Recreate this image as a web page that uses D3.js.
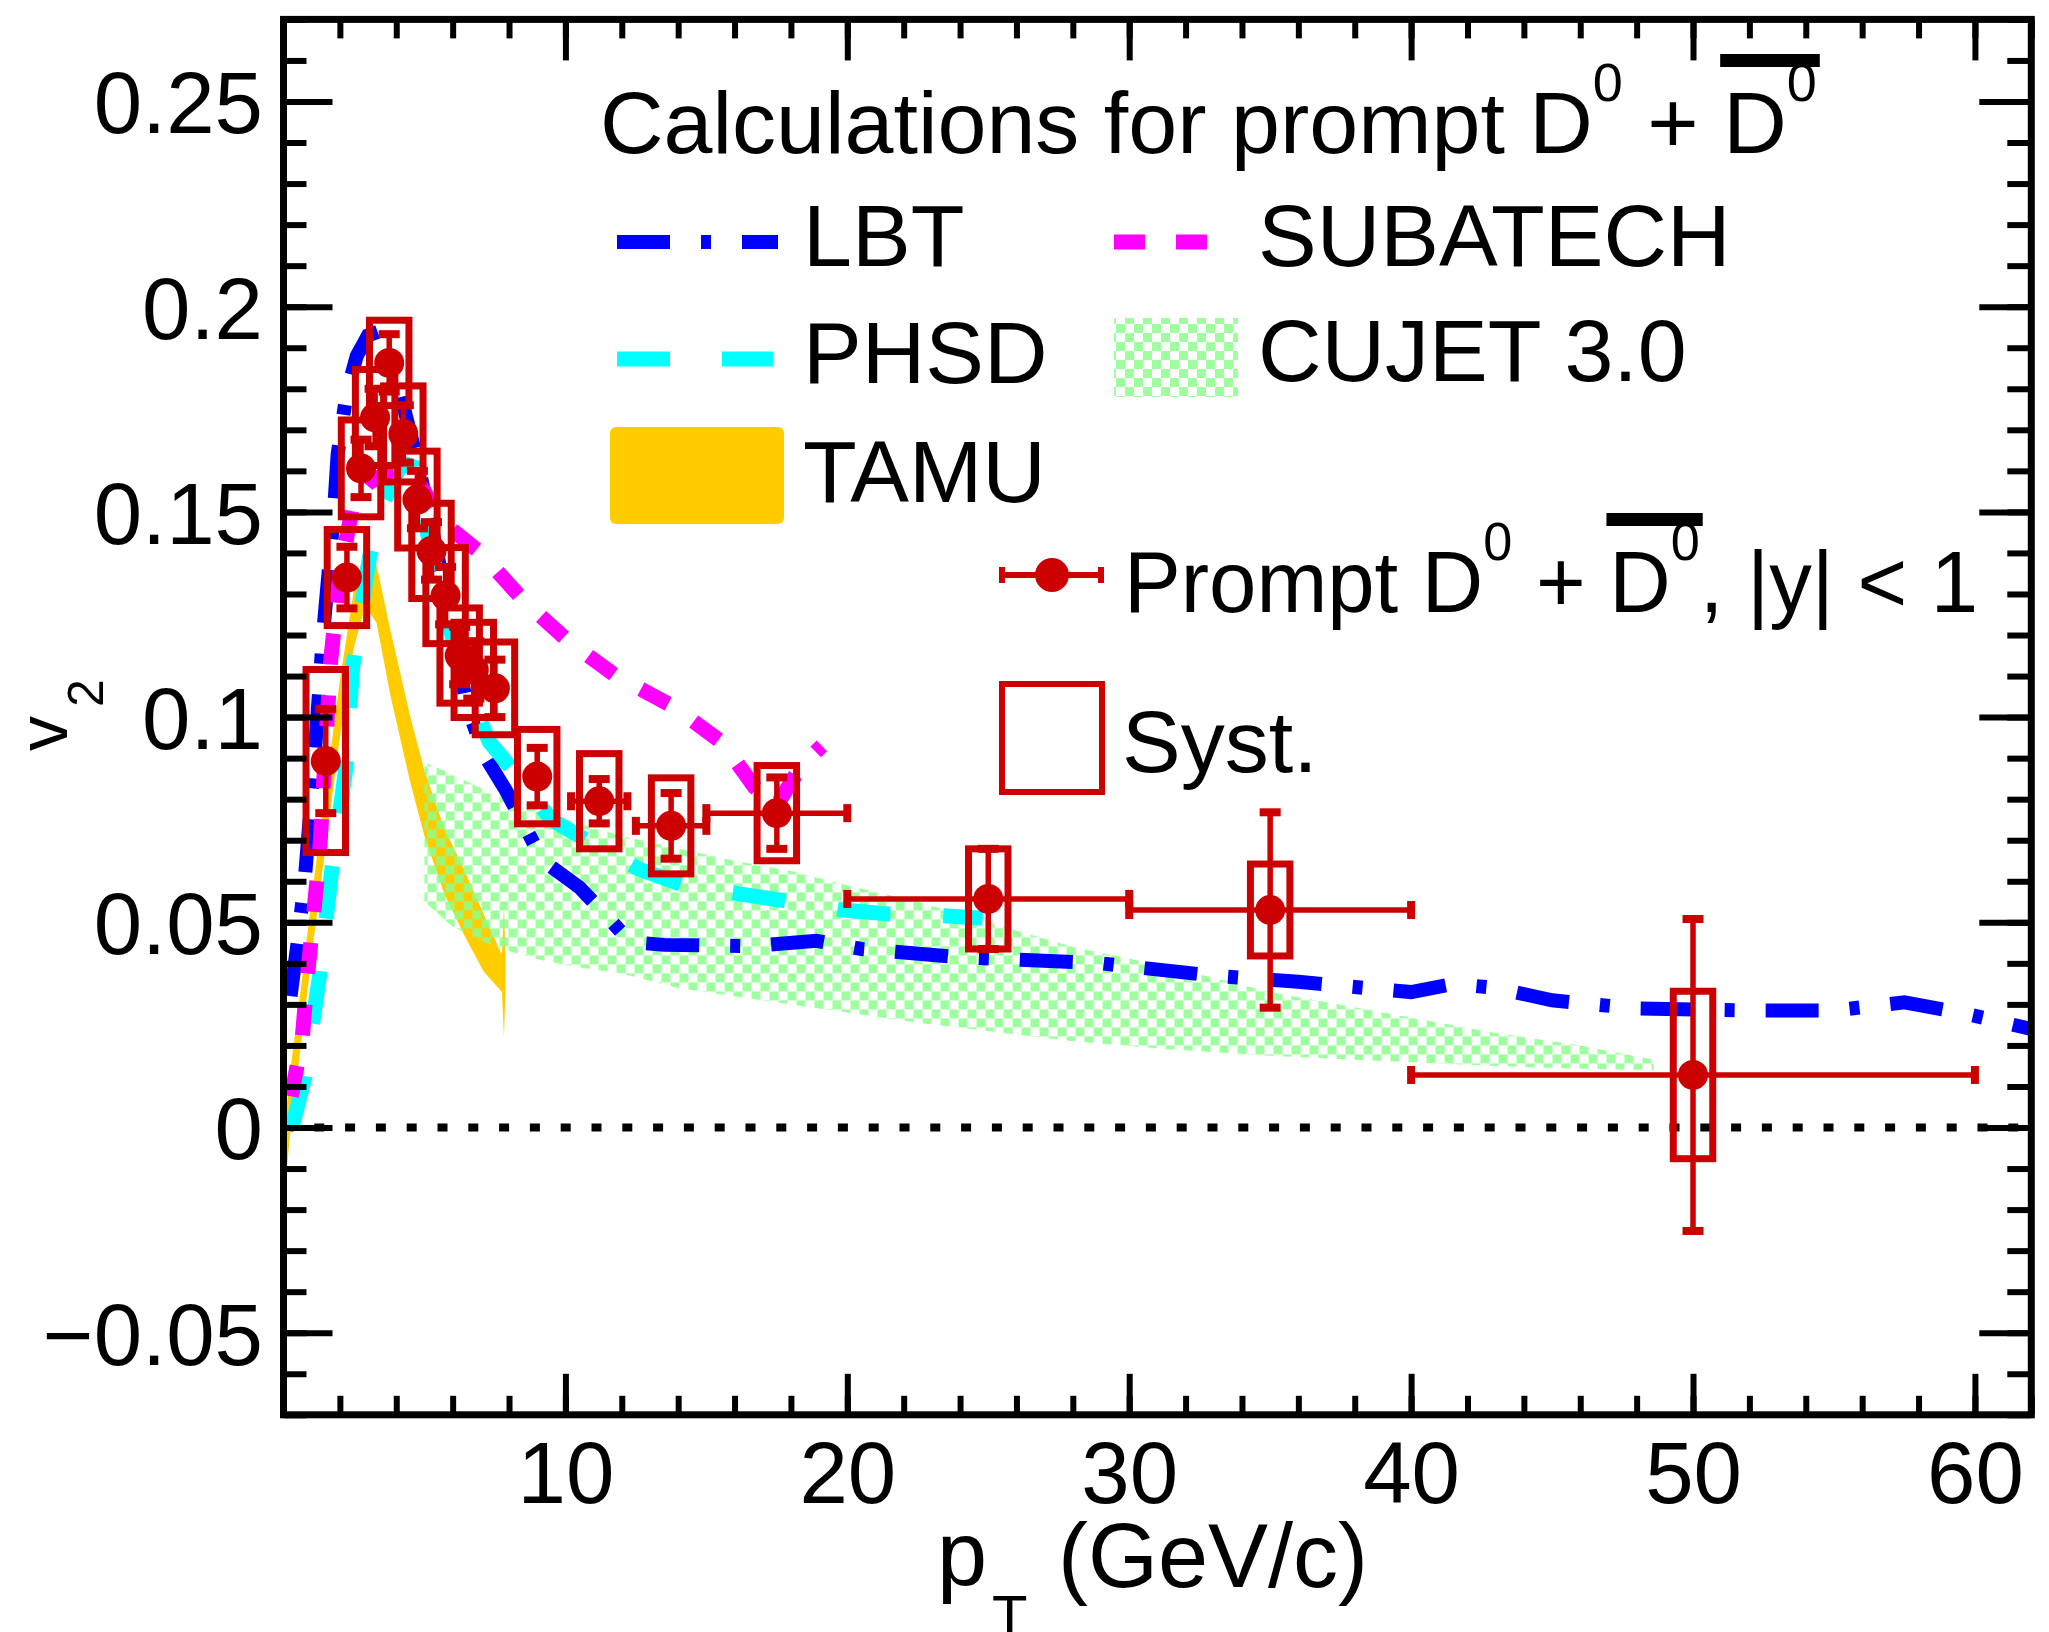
<!DOCTYPE html>
<html>
<head>
<meta charset="utf-8">
<script src="https://cdn.jsdelivr.net/npm/d3@7"></script>
<style>
  body { margin: 0; background: #fff; }
  svg text { font-family: "Liberation Sans", Arial, Helvetica, sans-serif; fill: #000; }
</style>
</head>
<body>
<div id="plot"></div>
<script>
// ---- values ----
const xMajorTicks = [10, 20, 30, 40, 50, 60];
const yMajorTicks = [-0.05, 0, 0.05, 0.1, 0.15, 0.2, 0.25];
const yTickLabels = ["\u22120.05", "0", "0.05", "0.1", "0.15", "0.2", "0.25"];

// prompt D0 + D0bar, |y| < 1
const ptD0   = [1.5, 2.25, 2.75, 3.25, 3.75, 4.25, 4.75, 5.25, 5.75, 6.25, 6.75, 7.5, 9.0, 11.2, 13.75, 17.5, 25.0, 35.0, 50.0];
const v2D0   = [0.0893, 0.134, 0.1606, 0.173, 0.1863, 0.169, 0.153, 0.1405, 0.1296, 0.115, 0.1115, 0.107, 0.0855, 0.0795, 0.0735, 0.0766, 0.0557, 0.053, 0.0128];
const statD0 = [0.0127, 0.0075, 0.007, 0.007, 0.007, 0.007, 0.007, 0.007, 0.007, 0.007, 0.007, 0.007, 0.007, 0.0054, 0.008, 0.0087, 0.0122, 0.0238, 0.038];
const systD0 = [0.0223, 0.0117, 0.0118, 0.0117, 0.0104, 0.0117, 0.0118, 0.0116, 0.0117, 0.0116, 0.0116, 0.0113, 0.0115, 0.0116, 0.0117, 0.0116, 0.0122, 0.0112, 0.0204];
const ptLoD0 = [1.5, 2.25, 2.75, 3.25, 3.75, 4.25, 4.75, 5.25, 5.75, 6.25, 6.75, 7.5, 9.0, 10.2, 12.5, 15, 20, 30, 40];
const ptHiD0 = [1.5, 2.25, 2.75, 3.25, 3.75, 4.25, 4.75, 5.25, 5.75, 6.25, 6.75, 7.5, 9.0, 12.2, 15, 20, 30, 40, 60];

// LBT
const lbtPt = [0.25, 0.5, 0.75, 1.1, 1.4, 1.78, 1.92, 2.24, 2.6, 3.0, 3.4, 3.8, 4.1, 4.8, 5.6, 6.5, 7.1, 7.9, 9.2, 10.5, 11.4, 12.3, 13.5, 16.6, 18.9, 20.5, 24.0, 29.0, 33.0, 36.0, 40.0, 41.5, 43.0, 45.0, 48.0, 52.0, 55.0, 57.5, 59.5, 62.0];
const lbtV2 = [0.032, 0.045, 0.06, 0.09, 0.12, 0.149, 0.164, 0.179, 0.188, 0.193, 0.194, 0.19, 0.18, 0.161, 0.135, 0.103, 0.091, 0.082, 0.065, 0.0585, 0.052, 0.0452, 0.0445, 0.0442, 0.0455, 0.0435, 0.0415, 0.040, 0.037, 0.0355, 0.033, 0.035, 0.034, 0.031, 0.029, 0.0285, 0.0285, 0.0305, 0.028, 0.024];

// PHSD
const phsdPt = [0.3, 0.75, 1.28, 1.7, 2.2, 2.45, 3.05, 3.6, 4.2, 4.6, 5.0, 5.85, 6.5, 7.3, 7.9, 9.5, 11.0, 12.6, 14.2, 16.1, 18.0, 19.85, 21.5, 23.4, 24.8];
const phsdV2 = [0.0, 0.012, 0.037, 0.062, 0.087, 0.112, 0.139, 0.153, 0.162, 0.161, 0.148, 0.123, 0.107, 0.094, 0.089, 0.075, 0.069, 0.063, 0.059, 0.057, 0.055, 0.053, 0.052, 0.0516, 0.051];

// SUBATECH
const subPt = [0.28, 0.67, 0.85, 1.07, 1.28, 1.67, 2.0, 2.5, 3.0, 3.8, 4.4, 5.0, 5.55, 7.0, 8.5, 10.1, 11.8, 13.85, 15.6, 16.7, 17.5, 18.35, 19.1];
const subV2 = [0.0076, 0.022, 0.037, 0.052, 0.067, 0.1136, 0.135, 0.153, 0.157, 0.16, 0.161, 0.155, 0.148, 0.14, 0.1285, 0.1185, 0.11, 0.1025, 0.0936, 0.083, 0.0785, 0.088, 0.093];

// TAMU band
const tamuPt = [0.08, 0.3, 0.6, 1.0, 1.5, 2.0, 2.5, 2.9, 3.3, 3.8, 4.5, 5.0, 5.7, 6.4, 7.1, 7.75, 7.82, 7.88];
const tamuLo = [-0.013, 0.003, 0.019, 0.042, 0.069, 0.095, 0.117, 0.127, 0.123, 0.105, 0.084, 0.071, 0.057, 0.047, 0.038, 0.033, 0.022, 0.034];
const tamuHi = [0.003, 0.017, 0.033, 0.056, 0.083, 0.109, 0.131, 0.141, 0.137, 0.121, 0.100, 0.087, 0.073, 0.063, 0.052, 0.042, 0.054, 0.041];

// CUJET 3.0 band
const cujetPt = [5.0, 6.0, 7.5, 9.0, 10.5, 12.0, 14.0, 16.0, 18.0, 20.0, 22.5, 25.0, 28.0, 31.5, 35.0, 39.0, 43.0, 46.0, 48.6];
const cujetHi = [0.089, 0.086, 0.081, 0.078, 0.074, 0.071, 0.068, 0.065, 0.0625, 0.059, 0.055, 0.050, 0.044, 0.039, 0.033, 0.028, 0.023, 0.020, 0.0165];
const cujetLo = [0.055, 0.049, 0.044, 0.041, 0.039, 0.0375, 0.034, 0.032, 0.030, 0.028, 0.0255, 0.0235, 0.021, 0.019, 0.0175, 0.0162, 0.015, 0.0143, 0.014];

// ---- drawing ----
const W = 2049, H = 1632;
const margins = { top: 19.4, right: 17.7, bottom: 217.2, left: 283.5 };
const width = W - margins.left - margins.right;
const height = H - margins.top - margins.bottom;

const FS = 88;      // main text size
const TFS = 87;     // tick labels
const SUP = 54;     // superscripts
const RED = "#cc0000";
const SYST_HALF = 0.7; // half width of syst boxes, GeV/c

const svg = d3.select("#plot").append("svg").attr("width", W).attr("height", H);
const defs = svg.append("defs");
defs.append("clipPath").attr("id", "frame-clip")
  .append("rect").attr("width", width).attr("height", height);
const checker = defs.append("pattern").attr("id", "checker")
  .attr("patternUnits", "userSpaceOnUse").attr("width", 18).attr("height", 18);
checker.append("rect").attr("width", 9).attr("height", 9).attr("fill", "#8cff8c").attr("fill-opacity", 0.85);
checker.append("rect").attr("x", 9).attr("y", 9).attr("width", 9).attr("height", 9).attr("fill", "#8cff8c").attr("fill-opacity", 0.85);

const plot = svg.append("g").attr("transform", `translate(${margins.left},${margins.top})`);

const x = d3.scaleLinear().domain([0, 62]).range([0, width]);
const y = d3.scaleLinear().domain([-0.07, 0.27]).range([height, 0]);

// models
const models = plot.append("g").attr("clip-path", "url(#frame-clip)");

models.append("line")
  .attr("x1", 0).attr("x2", width).attr("y1", y(0)).attr("y2", y(0))
  .attr("stroke", "#000").attr("stroke-width", 8).attr("stroke-dasharray", "10 20.8");

const band = (pts, lo, hi) => d3.area()
  .x((d, i) => x(pts[i])).y0((d, i) => y(lo[i])).y1((d, i) => y(hi[i]))(pts);
const curve = (pts, vals) => d3.line()
  .x((d, i) => x(pts[i])).y((d, i) => y(vals[i]))(pts);

models.append("path").attr("d", band(tamuPt, tamuLo, tamuHi)).attr("fill", "#ffcc00");
models.append("path").attr("d", band(cujetPt, cujetLo, cujetHi)).attr("fill", "url(#checker)");

models.append("path").attr("d", curve(lbtPt, lbtV2))
  .attr("fill", "none").attr("stroke", "#0000ff").attr("stroke-width", 14)
  .attr("stroke-dasharray", "53 31 10 31");
models.append("path").attr("d", curve(phsdPt, phsdV2))
  .attr("fill", "none").attr("stroke", "#00ffff").attr("stroke-width", 15)
  .attr("stroke-dasharray", "53 53");
models.append("path").attr("d", curve(subPt, subV2))
  .attr("fill", "none").attr("stroke", "#ff00ff").attr("stroke-width", 15)
  .attr("stroke-dasharray", "31 31");

// measured points
const data = ptD0.map((pt, i) => ({
  pt, v: v2D0[i], stat: statD0[i], syst: systD0[i], lo: ptLoD0[i], hi: ptHiD0[i]
}));
const pts = plot.append("g").attr("clip-path", "url(#frame-clip)");

pts.selectAll("rect.syst").data(data).enter().append("rect")
  .attr("class", "syst")
  .attr("x", d => x(d.pt - SYST_HALF))
  .attr("width", d => x(d.pt + SYST_HALF) - x(d.pt - SYST_HALF))
  .attr("y", d => y(d.v + d.syst))
  .attr("height", d => y(d.v - d.syst) - y(d.v + d.syst))
  .attr("fill", "none").attr("stroke", RED).attr("stroke-width", 7);

// stat error bars (vertical)
pts.selectAll("line.ey").data(data).enter().append("line")
  .attr("x1", d => x(d.pt)).attr("x2", d => x(d.pt))
  .attr("y1", d => y(d.v + d.stat)).attr("y2", d => y(d.v - d.stat))
  .attr("stroke", RED).attr("stroke-width", 5.5);
pts.selectAll("rect.capy").data(data.flatMap(d => [[d.pt, d.v + d.stat], [d.pt, d.v - d.stat]]))
  .enter().append("rect")
  .attr("x", d => x(d[0]) - 10.5).attr("y", d => y(d[1]) - 4)
  .attr("width", 21).attr("height", 8).attr("fill", RED);

// bin widths (horizontal)
const wide = data.filter(d => d.hi > d.lo);
pts.selectAll("line.ex").data(wide).enter().append("line")
  .attr("x1", d => x(d.lo)).attr("x2", d => x(d.hi))
  .attr("y1", d => y(d.v)).attr("y2", d => y(d.v))
  .attr("stroke", RED).attr("stroke-width", 5.5);
pts.selectAll("rect.capx").data(wide.flatMap(d => [[d.lo, d.v], [d.hi, d.v]]))
  .enter().append("rect")
  .attr("x", d => x(d[0]) - 4).attr("y", d => y(d[1]) - 9)
  .attr("width", 8).attr("height", 18).attr("fill", RED);

pts.selectAll("circle").data(data).enter().append("circle")
  .attr("cx", d => x(d.pt)).attr("cy", d => y(d.v)).attr("r", 15).attr("fill", RED);

// axes, ticks inward on all four sides
function styleAxis(g) {
  g.select(".domain").remove();
  g.attr("font-size", TFS).attr("font-family", "'Liberation Sans', Arial, sans-serif");
  g.selectAll(".tick line").attr("stroke", "#000").attr("stroke-width", 6);
  g.selectAll(".tick text").attr("fill", "#000");
}
const xMinor = d3.range(0, 62.01, 2);
const yMinor = d3.range(-7, 28).map(i => i / 100);

plot.append("g").attr("transform", `translate(0,${height})`)
  .call(d3.axisBottom(x).tickValues(xMinor).tickSize(-19).tickFormat(""))
  .call(styleAxis);
plot.append("g").attr("transform", `translate(0,${height})`)
  .call(d3.axisBottom(x).tickValues(xMajorTicks).tickSize(-41).tickPadding(26.5).tickFormat(d3.format("d")))
  .call(styleAxis);
plot.append("g")
  .call(d3.axisTop(x).tickValues(xMinor).tickSize(-19).tickFormat(""))
  .call(styleAxis);
plot.append("g")
  .call(d3.axisTop(x).tickValues(xMajorTicks).tickSize(-41).tickFormat(""))
  .call(styleAxis);

plot.append("g")
  .call(d3.axisLeft(y).tickValues(yMinor).tickSize(-23).tickFormat(""))
  .call(styleAxis);
plot.append("g")
  .call(d3.axisLeft(y).tickValues(yMajorTicks).tickSize(-49).tickPadding(20.5)
    .tickFormat((d, i) => yTickLabels[i]))
  .call(styleAxis)
  .selectAll(".tick text").attr("dy", "0.36em");
plot.append("g").attr("transform", `translate(${width},0)`)
  .call(d3.axisRight(y).tickValues(yMinor).tickSize(-24).tickFormat(""))
  .call(styleAxis);
plot.append("g").attr("transform", `translate(${width},0)`)
  .call(d3.axisRight(y).tickValues(yMajorTicks).tickSize(-52).tickFormat(""))
  .call(styleAxis);

plot.append("rect").attr("width", width).attr("height", height)
  .attr("fill", "none").attr("stroke", "#000").attr("stroke-width", 7);

// axis titles
svg.append("text").attr("x", 937).attr("y", 1585).attr("font-size", 90).text("p");
svg.append("text").attr("x", 992).attr("y", 1636).attr("font-size", 58).text("T");
svg.append("text").attr("x", 1058).attr("y", 1587).attr("font-size", 90).text("(GeV/c)");

svg.append("text").attr("transform", "translate(67,751) rotate(-90)").attr("font-size", 70).text("v");
svg.append("text").attr("transform", "translate(103,707) rotate(-90)").attr("font-size", 50).text("2");

// legend
// a text with D0 + D0bar; squeeze narrows it horizontally about its start
function mesonText(x0, base, head, tail, squeeze) {
  const grp = svg.append("g")
    .attr("transform", `translate(${x0},0) scale(${squeeze},1) translate(${-x0},0)`);
  const t = grp.append("text").attr("x", x0).attr("y", base).attr("font-size", FS);
  t.append("tspan").text(head + "D");
  t.append("tspan").attr("font-size", SUP).attr("dy", -52).text("0");
  t.append("tspan").attr("dy", 52).text(" + ");
  const dBar = t.append("tspan").text("D");
  const zBar = t.append("tspan").attr("font-size", SUP).attr("dy", -52).text("0");
  if (tail) t.append("tspan").attr("dy", 52).text(tail);
  const b0 = dBar.node().getBBox();
  const b1 = zBar.node().getBBox();
  grp.append("rect")
    .attr("x", b0.x - 3).attr("y", base - 99)
    .attr("width", b1.x + b1.width - b0.x + 6).attr("height", 13)
    .attr("fill", "#000");
}

mesonText(600, 153, "Calculations for prompt ", "", 1);

svg.append("line").attr("x1", 617).attr("x2", 778).attr("y1", 242).attr("y2", 242)
  .attr("stroke", "#0000ff").attr("stroke-width", 14).attr("stroke-dasharray", "53 31 10 31");
svg.append("text").attr("x", 803).attr("y", 266).attr("font-size", FS).text("LBT");

svg.append("line").attr("x1", 1114).attr("x2", 1238).attr("y1", 242).attr("y2", 242)
  .attr("stroke", "#ff00ff").attr("stroke-width", 15).attr("stroke-dasharray", "31 31");
svg.append("text").attr("x", 1258).attr("y", 266).attr("font-size", FS).text("SUBATECH");

svg.append("line").attr("x1", 617).attr("x2", 773).attr("y1", 359).attr("y2", 359)
  .attr("stroke", "#00ffff").attr("stroke-width", 15).attr("stroke-dasharray", "53 52");
svg.append("text").attr("x", 803).attr("y", 383).attr("font-size", FS).text("PHSD");

svg.append("rect").attr("x", 1114).attr("y", 318).attr("width", 124).attr("height", 79)
  .attr("fill", "url(#checker)");
svg.append("text").attr("x", 1258).attr("y", 381).attr("font-size", FS).text("CUJET 3.0");

svg.append("rect").attr("x", 610).attr("y", 427).attr("width", 174).attr("height", 97)
  .attr("rx", 6).attr("fill", "#ffcc00");
svg.append("text").attr("x", 803).attr("y", 502).attr("font-size", FS).text("TAMU");

svg.append("line").attr("x1", 999).attr("x2", 1104).attr("y1", 575).attr("y2", 575)
  .attr("stroke", RED).attr("stroke-width", 6);
svg.append("rect").attr("x", 999).attr("y", 567).attr("width", 6).attr("height", 16).attr("fill", RED);
svg.append("rect").attr("x", 1098).attr("y", 567).attr("width", 6).attr("height", 16).attr("fill", RED);
svg.append("circle").attr("cx", 1052).attr("cy", 575).attr("r", 17).attr("fill", RED);

mesonText(1124, 612, "Prompt ", ", |y| < 1", 0.967);

svg.append("rect").attr("x", 1002).attr("y", 684).attr("width", 100).attr("height", 108)
  .attr("fill", "none").attr("stroke", RED).attr("stroke-width", 6);
svg.append("text").attr("x", 1122).attr("y", 772).attr("font-size", FS).text("Syst.");
</script>
</body>
</html>
